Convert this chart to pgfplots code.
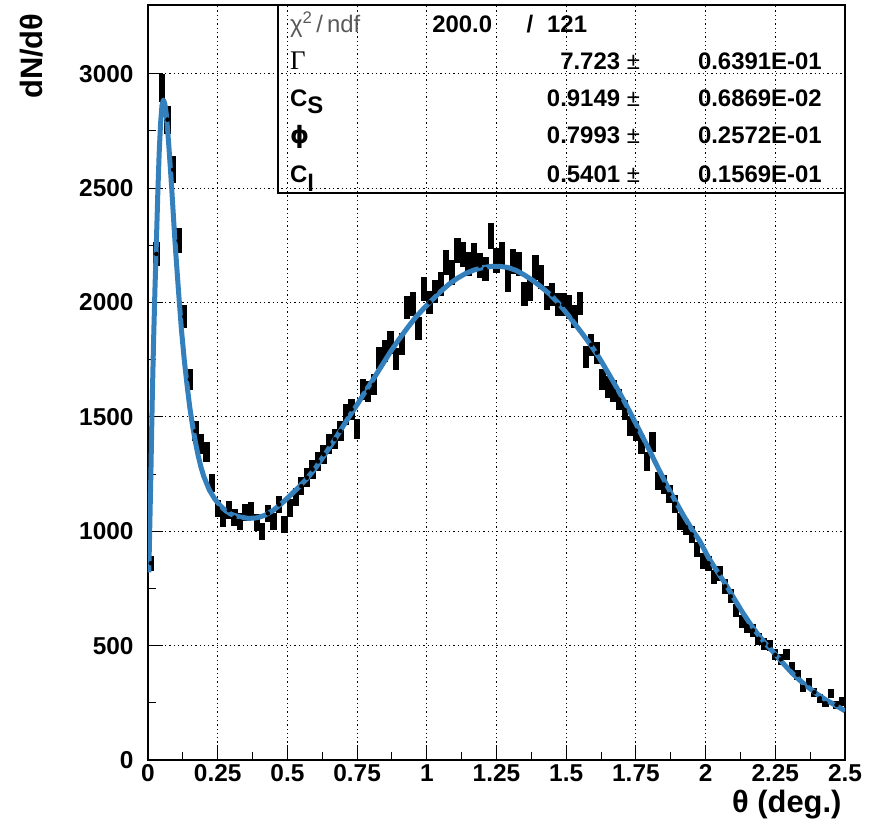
\documentclass[border=0pt]{standalone}
\usepackage{pgfplots}
\pgfplotsset{compat=1.18}
\usepackage{pgfplotstable}
\usepackage{fontspec}
\setmainfont{Liberation Sans}
\newfontfamily\seriffont{Liberation Serif}
\newfontfamily\dejavu{DejaVu Sans}
\definecolor{fitblue}{RGB}{52,128,188}

\pgfplotstableread{
x y
0.01 860
0.03 2212
0.05 2937
0.07 2799
0.09 2580
0.11 2270
0.13 1938
0.15 1664
0.17 1438
0.19 1382
0.21 1346
0.23 1212
0.25 1100
0.27 1055
0.29 1092
0.31 1060
0.33 1044
0.35 1081
0.37 1088
0.39 1037
0.41 1000
0.43 1078
0.45 1044
0.47 1117
0.49 1029
0.51 1102
0.53 1150
0.55 1197
0.57 1234
0.59 1270
0.61 1305
0.63 1336
0.65 1380
0.67 1402
0.69 1438
0.71 1511
0.73 1533
0.75 1445
0.77 1621
0.79 1610
0.81 1640
0.83 1759
0.85 1788
0.87 1825
0.89 1752
0.91 1818
0.93 1978
0.95 1993
0.97 1887
0.99 2059
1.01 2000
1.03 2048
1.05 2080
1.07 2175
1.09 2131
1.11 2226
1.13 2209
1.15 2168
1.17 2204
1.19 2161
1.21 2146
1.23 2290
1.25 2183
1.27 2209
1.29 2100
1.31 2180
1.33 2168
1.35 2037
1.37 2059
1.39 2153
1.41 2110
1.43 2020
1.45 2035
1.47 1990
1.49 1990
1.51 1980
1.53 1938
1.55 1995
1.57 1762
1.59 1815
1.61 1780
1.63 1664
1.65 1630
1.67 1613
1.69 1575
1.71 1530
1.73 1460
1.75 1440
1.77 1379
1.79 1304
1.81 1391
1.83 1219
1.85 1204
1.87 1161
1.89 1120
1.91 1044
1.93 1018
1.95 986
1.97 920
1.99 869
2.01 860
2.03 800
2.05 815
2.07 759
2.09 715
2.11 654
2.13 606
2.15 584
2.17 566
2.19 530
2.21 508
2.23 500
2.25 460
2.27 440
2.29 460
2.31 407
2.33 373
2.35 318
2.37 336
2.39 296
2.41 270
2.43 248
2.45 289
2.47 241
2.49 256
}\datatable

\pgfplotstableread{
x y
0.003 820
0.006 1000
0.01 1230
0.015 1560
0.02 1830
0.025 2060
0.03 2260
0.035 2470
0.04 2650
0.045 2780
0.05 2860
0.055 2885
0.06 2870
0.065 2830
0.07 2760
0.075 2680
0.08 2590
0.085 2500
0.09 2400
0.095 2300
0.10 2210
0.11 2040
0.12 1880
0.13 1750
0.14 1640
0.15 1540
0.16 1460
0.17 1390
0.18 1330
0.19 1280
0.20 1240
0.22 1180
0.24 1140
0.26 1110
0.28 1088
0.30 1073
0.33 1062
0.36 1056
0.39 1058
0.42 1070
0.45 1092
0.48 1122
0.51 1156
0.54 1192
0.57 1230
0.60 1275
0.63 1328
0.66 1382
0.69 1440
0.72 1498
0.75 1553
0.78 1612
0.81 1668
0.84 1727
0.87 1785
0.90 1838
0.93 1888
0.96 1935
0.99 1975
1.02 2012
1.05 2048
1.08 2080
1.11 2106
1.14 2127
1.17 2142
1.20 2152
1.23 2157
1.26 2158
1.29 2153
1.32 2140
1.35 2120
1.38 2096
1.41 2068
1.44 2037
1.47 2000
1.50 1955
1.53 1908
1.56 1860
1.59 1810
1.62 1755
1.65 1693
1.68 1630
1.71 1564
1.74 1494
1.77 1422
1.80 1350
1.83 1275
1.86 1203
1.89 1135
1.92 1070
1.95 1010
1.98 955
2.01 885
2.04 827
2.07 772
2.10 710
2.13 650
2.16 595
2.19 545
2.22 502
2.25 462
2.28 420
2.31 380
2.34 346
2.37 316
2.40 288
2.43 264
2.46 243
2.50 215
}\fittable

\begin{document}
\begin{tikzpicture}
\begin{axis}[
  scale only axis, width=697bp, height=755bp,
  xmin=0, xmax=2.5, ymin=0, ymax=3300,
  xtick={0,0.25,0.5,0.75,1,1.25,1.5,1.75,2,2.25,2.5},
  xticklabels={0,0.25,0.5,0.75,1,1.25,1.5,1.75,2,2.25,2.5},
  ytick={0,500,1000,1500,2000,2500,3000},
  yticklabels={0,500,1000,1500,2000,2500,3000},
  minor x tick num=1, minor y tick num=1,
  tick align=inside, xtick pos=left, ytick pos=left,
  major tick length=15bp, minor tick length=8bp,
  grid=major,
  major grid style={black, line width=1bp, dash pattern=on 1.3bp off 3bp},
  axis line style={line width=1.2bp},
  every tick/.style={black, line width=1bp},
  tick label style={font=\fontsize{24.5}{28}\selectfont\bfseries},
  yticklabel style={xshift=-11bp},
  xticklabel style={yshift=-1bp},
  xlabel={θ (deg.)}, ylabel={dN/dθ},
  every axis x label/.style={at={(axis description cs:1,0)}, anchor=north east, yshift=-27bp, font=\fontsize{31}{34}\selectfont\bfseries},
  every axis y label/.style={at={(axis description cs:-0.188,0.9934)}, rotate=90, anchor=north east, font=\fontsize{31}{34}\selectfont\bfseries},
]
\addplot[black, only marks, mark=none,
  error bars/.cd, y dir=both, y explicit, error mark=none,
  error bar style={line width=6.3bp, black}]
  table[x=x, y=y, y error expr=1.15*sqrt(\thisrow{y})] {\datatable};
\addplot[fitblue, line width=5bp, line join=round, mark=none] table[x=x, y=y] {\fittable};

\draw[line width=1.2bp] (axis cs:0.466,2478) rectangle (axis cs:2.5,3300);
\begin{scope}[every node/.style={font=\fontsize{24}{28}\selectfont\bfseries, inner sep=0pt}]
\node[anchor=base west, font=\fontsize{24}{28}\selectfont\mdseries, text=black!65] at (axis cs:0.509,3178) {χ\textsuperscript{2}\,/\,ndf};
\node[anchor=base west] at (axis cs:1.019,3178) {200.0};
\node[anchor=base] at (axis cs:1.370,3178) {/};
\node[anchor=base west] at (axis cs:1.431,3178) {121};
\node[anchor=base west, font=\fontsize{27}{28}\selectfont\seriffont] at (axis cs:0.509,3016) {Γ};
\node[anchor=base west] at (axis cs:0.509,2855) {C\raisebox{-0.3em}{S}};
\node[anchor=base west, font=\fontsize{24}{28}\selectfont\dejavu\bfseries] at (axis cs:0.509,2693) {ϕ};
\node[anchor=base west] at (axis cs:0.509,2526) {C\raisebox{-0.4em}{l}};
\node[anchor=base east] at (axis cs:1.765,3016) {7.723 {\mdseries ±}};
\node[anchor=base east] at (axis cs:1.765,2855) {0.9149 {\mdseries ±}};
\node[anchor=base east] at (axis cs:1.765,2693) {0.7993 {\mdseries ±}};
\node[anchor=base east] at (axis cs:1.765,2526) {0.5401 {\mdseries ±}};
\node[anchor=base east] at (axis cs:2.417,3016) {0.6391E-01};
\node[anchor=base east] at (axis cs:2.417,2855) {0.6869E-02};
\node[anchor=base east] at (axis cs:2.417,2693) {0.2572E-01};
\node[anchor=base east] at (axis cs:2.417,2526) {0.1569E-01};
\end{scope}
\end{axis}
\path ([xshift=-148bp,yshift=-70bp]current axis.south west) rectangle ([xshift=33bp,yshift=5bp]current axis.north east);
\end{tikzpicture}
\end{document}
